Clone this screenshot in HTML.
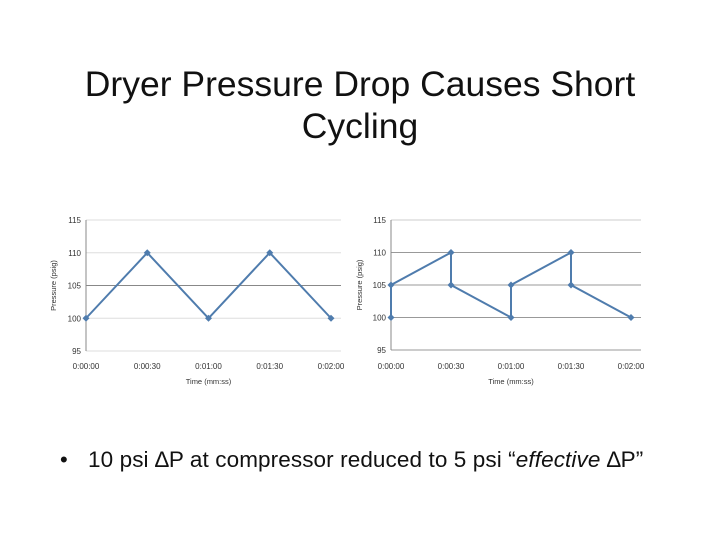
<!DOCTYPE html>
<html><head><meta charset="utf-8"><style>
body{margin:0;width:720px;height:540px;background:#fff;overflow:hidden;position:relative;font-family:"Liberation Sans",sans-serif}
#title{position:absolute;left:0;width:720px;top:63px;text-align:center;font-size:35.5px;line-height:42px;color:#111}
#bullet-dot{position:absolute;left:60px;top:447px;font-size:22px;color:#111}
#bullet{position:absolute;left:88px;top:447px;font-size:22.5px;color:#111;white-space:nowrap;letter-spacing:0.1px}
svg{position:absolute;left:0;top:0}
</style></head><body>
<div id="title">Dryer Pressure Drop Causes Short<br>Cycling</div>
<svg id="chart" width="720" height="540"></svg>
<div id="bullet-dot">•</div>
<div id="bullet">10 psi ∆P at compressor reduced to 5 psi “<i>effective</i> ∆P”</div>
<script>
const yTicks=[95,100,105,110,115];
const xTickLabels=["0:00:00","0:00:30","0:01:00","0:01:30","0:02:00"];
const xTickVals=[0,30,60,90,120];
const leftTimes=[0,30,60,90,120];
const leftPressure=[100,110,100,110,100];
const rightTimes=[0,0,30,30,60,60,90,90,120];
const rightPressure=[100,105,110,105,100,105,110,105,100];
const NS="http://www.w3.org/2000/svg";
const svg=document.getElementById('chart');
function mk(t,a,p){const e=document.createElementNS(NS,t);for(const k in a)e.setAttribute(k,a[k]);(p||svg).appendChild(e);return e;}
function draw(name,x0,x1,y0,y1,times,vals,yTitleX,gridCols){
  const g=mk('g',{});
  
  
  const sx=v=>x0+(v-0)/(120)*(x1-x0);
  const sy=v=>y1-(v-95)/20*(y1-y0);
  yTicks.forEach((t,i)=>{
    const l=mk('line',{x1:x0,x2:x1+10,y1:sy(t),y2:sy(t),stroke:gridCols[i],'stroke-width':1},g);
    
    
    const tx=mk('text',{x:x0-5,y:sy(t)+3,'font-size':8,'text-anchor':'end',fill:'#333'},g);
    tx.textContent=t;
    
    
  });
  mk('line',{x1:x0,x2:x0,y1:y0,y2:y1,stroke:'#888'},g);
  xTickVals.forEach((v,i)=>{
    const tx=mk('text',{x:sx(v),y:369,'font-size':8,'text-anchor':'middle',fill:'#333'},g);
    tx.textContent=xTickLabels[i];
    
    
  });
  const at=mk('text',{x:(x0+x1)/2,y:384,'font-size':7.5,'text-anchor':'middle',fill:'#333'},g);
  at.textContent='Time (mm:ss)';
  
  
  const yt=mk('text',{x:0,y:0,'font-size':7.5,'text-anchor':'middle',fill:'#333',transform:`translate(${yTitleX},${(y0+y1)/2}) rotate(-90)`},g);
  yt.textContent='Pressure (psig)';
  
  
  const pts=times.map((t,i)=>sx(t)+','+sy(vals[i])).join(' ');
  const pl=mk('polyline',{points:pts,fill:'none',stroke:'#4f7cad','stroke-width':2},g);
  
  
  times.forEach((t,i)=>{
    const x=sx(t),y=sy(vals[i]);
    const m=mk('polygon',{points:`${x},${y-3.5} ${x+3.5},${y} ${x},${y+3.5} ${x-3.5},${y}`,fill:'#4f7cad'},g);
    
    
  });
}
draw('left-chart',86,331,220,351,leftTimes,leftPressure,56,['#ddd','#ddd','#888','#ddd','#ddd']);
draw('right-chart',391,631,220,350,rightTimes,rightPressure,362,['#999','#999','#999','#999','#ccc']);
</script>
</body></html>
